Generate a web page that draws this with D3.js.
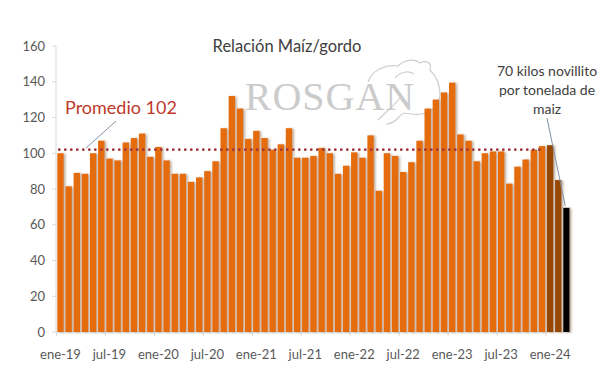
<!DOCTYPE html>
<html>
<head>
<meta charset="utf-8">
<script src="https://cdn.jsdelivr.net/npm/d3@7"></script>
<style>
  body { margin: 0; background: #fff; }
  svg { display: block; }
</style>
</head>
<body>
<div class="container"></div>
<script>
const width = 600, height = 384;

// data
const years = ["19", "20", "21", "22", "23", "24"];
const monthNames = ["ene", "feb", "mar", "abr", "may", "jun", "jul", "ago", "sep", "oct", "nov", "dic"];
const values = [100, 81.5, 89, 88.5, 100, 107, 97, 96, 106, 108.5, 111, 98,
  103.5, 96, 88.5, 88.5, 84, 86.5, 90, 95.5, 114, 132, 125, 108,
  112.5, 108.5, 102, 105, 114, 97.5, 97.5, 98.5, 103, 100, 88.5, 93,
  100.5, 97.5, 110, 79, 100, 98.5, 89.5, 95, 107, 125, 130, 134,
  139.5, 110.5, 107, 95.5, 100, 101, 101, 83, 92.5, 96.5, 102, 104,
  104.5, 85, 69.5];
const categories = [];
years.forEach(y => monthNames.forEach(m => categories.push(m + "-" + y)));
categories.length = values.length;
const darkCats = ["ene-24", "feb-24"];
const lastCat = "mar-24";
const xTicks = ["ene-19", "jul-19", "ene-20", "jul-20", "ene-21", "jul-21", "ene-22", "jul-22", "ene-23", "jul-23", "ene-24"];
const yTicks = [0, 20, 40, 60, 80, 100, 120, 140, 160];
const promedio = 102;
const promedioEnd = "dic-23";

const data = categories.map((c, i) => ({ cat: c, value: values[i] }));

const svg = d3.select(".container").append("svg")
  .attr("width", width)
  .attr("height", height)
  .style("font-family", "Lato, 'Open Sans', sans-serif");

const defs = svg.append("defs");
defs.append("filter").attr("id", "shadow")
  .attr("x", "-50%").attr("y", "-10%").attr("width", "200%").attr("height", "120%")
  .append("feDropShadow")
  .attr("dx", 1.8).attr("dy", 0.5).attr("stdDeviation", 0.8)
  .attr("flood-color", "#8a6a4a").attr("flood-opacity", 0.55);

const x = d3.scaleBand().domain(categories).range([56.4, 570.5]).paddingInner(0.22).paddingOuter(0.11);
const y = d3.scaleLinear().domain([0, 160]).range([332, 46]);

// watermark
const wm = svg.append("g").attr("fill", "none").attr("stroke", "#cfcfcf").attr("stroke-width", 1.2);
wm.append("path").attr("d", "M368,82 C372,70 386,64 398,66 C404,60 414,58 420,63 C426,60 432,62 430,70 C436,76 440,84 440,94 C440,104 432,112 422,114 C410,116 404,110 400,116 C395,122 390,124 386,124");
wm.append("path").attr("d", "M395,78 C400,72 408,70 414,74");
wm.append("path").attr("d", "M378,120 C386,112 394,106 400,98");
svg.append("text")
  .attr("x", 330).attr("y", 110)
  .attr("text-anchor", "middle")
  .attr("font-family", "'Liberation Serif', 'DejaVu Serif', serif")
  .attr("font-size", 40)
  .attr("letter-spacing", 1)
  .attr("fill", "#cbcbcb")
  .text("ROSGAN");

// axes
const yAxis = svg.append("g");
yAxis.append("line").attr("x1", 56).attr("x2", 56).attr("y1", y(160)).attr("y2", y(0))
  .attr("stroke", "#d9d9d9");
yAxis.selectAll(".tick").data(yTicks).enter().append("line")
  .attr("x1", 52).attr("x2", 56).attr("y1", d => y(d)).attr("y2", d => y(d))
  .attr("stroke", "#d9d9d9");
yAxis.selectAll("text").data(yTicks).enter().append("text")
  .attr("x", 45).attr("y", d => y(d)).attr("dy", "0.35em")
  .attr("text-anchor", "end").attr("font-size", 13).attr("fill", "#595959")
  .text(d => d);

const xAxis = svg.append("g");
xAxis.append("line").attr("x1", 56).attr("x2", 571).attr("y1", y(0)).attr("y2", y(0))
  .attr("stroke", "#d9d9d9");
xAxis.selectAll("line.t").data(xTicks).enter().append("line").attr("class", "t")
  .attr("x1", d => x(d) - x.step() * 0.11).attr("x2", d => x(d) - x.step() * 0.11)
  .attr("y1", y(0)).attr("y2", y(0) + 4)
  .attr("stroke", "#d9d9d9");
xAxis.selectAll("text").data(xTicks).enter().append("text")
  .attr("x", d => x(d) + x.bandwidth() / 2).attr("y", 354).attr("dy", "0.35em")
  .attr("text-anchor", "middle").attr("font-size", 13).attr("fill", "#595959")
  .text(d => d);

// bars
svg.append("g").attr("filter", "url(#shadow)")
  .selectAll("rect").data(data).enter().append("rect")
  .attr("x", d => x(d.cat))
  .attr("y", d => y(d.value))
  .attr("width", x.bandwidth())
  .attr("height", d => y(0) - y(d.value))
  .attr("fill", d => d.cat === lastCat ? "#000000" : darkCats.includes(d.cat) ? "#974706" : "#e46c0a");

// promedio line
svg.append("line")
  .attr("x1", x(categories[0]) + 2).attr("x2", x(promedioEnd) + x.bandwidth())
  .attr("y1", y(promedio)).attr("y2", y(promedio))
  .attr("stroke", "#a0363c").attr("stroke-width", 2.8)
  .attr("stroke-linecap", "round").attr("stroke-dasharray", "0 6");

svg.append("text")
  .attr("x", 65).attr("y", 114)
  .attr("font-size", 18).attr("fill", "#c0392b")
  .text("Promedio " + promedio);
svg.append("line").attr("x1", 116).attr("y1", 121).attr("x2", 86).attr("y2", 148)
  .attr("stroke", "#8394a8").attr("stroke-width", 1);

// title
svg.append("text")
  .attr("x", 287).attr("y", 52)
  .attr("text-anchor", "middle").attr("font-size", 16.5).attr("fill", "#404040")
  .text("Relación Maíz/gordo");

// annotation
const ann = ["70 kilos novillito", "por tonelada de", "maiz"];
svg.append("g").selectAll("text").data(ann).enter().append("text")
  .attr("x", 547).attr("y", (d, i) => 76 + i * 19)
  .attr("text-anchor", "middle").attr("font-size", 14).attr("fill", "#404040")
  .text(d => d);
svg.append("line").attr("x1", 547).attr("y1", 118).attr("x2", x(lastCat) + 2).attr("y2", y(values[values.length - 1]) - 2)
  .attr("stroke", "#8394a8").attr("stroke-width", 1);
</script>
</body>
</html>
